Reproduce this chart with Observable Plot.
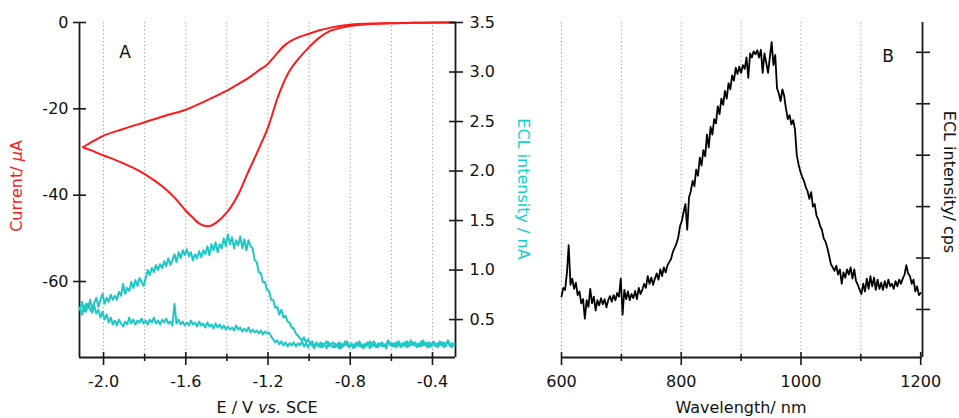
<!DOCTYPE html>
<html><head><meta charset="utf-8">
<script src="https://cdn.jsdelivr.net/npm/d3@7"></script>
<script src="https://cdn.jsdelivr.net/npm/@observablehq/plot@0.6"></script>
<style>
body{margin:0;background:#fff;}
#wrap{position:relative;width:959px;height:418px;overflow:hidden;font-family:"DejaVu Sans",Verdana,sans-serif;color:#111;}
#wrap svg{position:absolute;left:0;top:0;}
.lbl{position:absolute;white-space:nowrap;font-size:16px;line-height:16px;transform:translate(-50%,-50%);}
.rotL{transform:translate(-50%,-50%) rotate(-90deg);}
.rotR{transform:translate(-50%,-50%) rotate(90deg);}
</style></head><body><div id="wrap"></div>
<script>
const red = "#ff1a1a", cyan = "#1ec8c8", cyanText = "#10d0d0";

// ---- Panel A: cyclic voltammogram (current, µA) ----
const cvFwdE = [-0.29,-0.4,-0.5,-0.6,-0.7,-0.8,-0.85,-0.9,-0.95,-1.0,-1.05,-1.1,-1.15,-1.2,-1.25,-1.3,-1.35,-1.4,-1.45,-1.49,-1.53,-1.57,-1.6,-1.65,-1.7,-1.75,-1.8,-1.85,-1.9,-1.95,-2.0,-2.05,-2.1];
const cvFwdI = [0,-0.02,-0.05,-0.15,-0.35,-0.8,-1.3,-2.0,-3.5,-5.7,-8.3,-11.6,-17.0,-24.3,-29.8,-35.0,-40.3,-44.0,-46.3,-47.2,-46.7,-45.0,-43.6,-40.8,-38.5,-36.7,-35.1,-33.8,-32.7,-31.7,-30.8,-29.8,-28.9];
const cvRevE = [-2.1,-2.05,-2.0,-1.9,-1.8,-1.7,-1.6,-1.5,-1.4,-1.35,-1.3,-1.27,-1.24,-1.21,-1.18,-1.15,-1.12,-1.09,-1.05,-1.0,-0.95,-0.9,-0.85,-0.8,-0.7,-0.6,-0.5,-0.4,-0.29];
const cvRevI = [-28.9,-27.5,-26.2,-24.6,-23.1,-21.6,-20.2,-18.1,-15.8,-14.4,-13.0,-12.0,-10.9,-10.0,-8.5,-6.8,-5.3,-4.3,-3.4,-2.6,-1.8,-1.25,-0.8,-0.5,-0.25,-0.15,-0.08,-0.03,0];

// ---- Panel A: ECL intensity (nA), sampled every 0.01 V from -2.115 V ----
const eclStartE = -2.115, eclStepE = 0.01;
const eclFwd = [
0.60,0.68,0.58,0.66,0.62,0.70,0.60,0.67,0.72,0.63,
0.70,0.76,0.66,0.72,0.68,0.75,0.70,0.74,0.70,0.78,
0.74,0.86,0.76,0.82,0.79,0.88,0.82,0.90,0.84,0.92,
0.88,0.84,0.92,1.00,0.95,1.02,0.98,1.05,1.00,1.06,
1.02,1.09,1.04,1.12,1.05,1.10,1.16,1.08,1.18,1.12,
1.20,1.15,1.21,1.14,1.18,1.10,1.16,1.12,1.19,1.13,
1.20,1.16,1.24,1.15,1.26,1.20,1.28,1.18,1.26,1.22,
1.32,1.24,1.36,1.26,1.33,1.22,1.30,1.25,1.34,1.22,
1.31,1.20,1.30,1.24,1.22,1.10,1.08,0.98,0.97,0.88,
0.88,0.80,0.79,0.70,0.70,0.62,0.63,0.55,0.60,0.52,
0.54,0.48,0.47,0.42,0.41,0.36,0.34,0.31,0.29,0.32,
0.27,0.30,0.26,
0.28,0.23,0.27,0.24,0.22,0.26,0.25,0.21,0.27,0.24,
0.22,0.26,0.23,0.27,0.21,0.25,0.24,0.28,0.22,0.26,
0.24,0.22,0.27,0.23,0.25,0.21,0.26,0.24,0.28,0.23,
0.25,0.22,0.26,0.24,0.27,0.23,0.25,0.29,0.24,0.26,
0.23,0.27,0.25,0.22,0.26,0.24,0.28,0.23,0.25,0.27,
0.24,0.22,0.26,0.23,0.29,0.24,0.27,0.22,0.25,0.28,
0.23,0.26,0.24,0.27,0.22,0.25,0.28,0.23,0.26,0.24,0.25];
const eclRev = [
0.62,0.55,0.64,0.58,0.66,0.60,0.57,0.64,0.56,0.60,
0.52,0.58,0.50,0.55,0.47,0.52,0.45,0.49,0.44,0.50,
0.46,0.43,0.48,0.45,0.52,0.46,0.50,0.45,0.49,0.47,
0.51,0.46,0.49,0.45,0.50,0.47,0.52,0.46,0.49,0.45,
0.50,0.47,0.51,0.46,0.48,0.44,0.66,0.46,0.50,0.45,
0.48,0.44,0.47,0.44,0.49,0.45,0.47,0.43,0.48,0.44,
0.46,0.42,0.47,0.43,0.45,0.41,0.46,0.42,0.45,0.41,
0.44,0.40,0.43,0.40,0.42,0.39,0.44,0.40,0.42,0.38,
0.41,0.38,0.42,0.37,0.40,0.37,0.39,0.36,0.39,0.35,
0.38,0.36,0.37,0.33,0.30,0.27,0.29,0.25,0.28,0.24,
0.27,0.23,0.26,0.24,0.27,0.23,0.26,0.24,0.28,0.23,
0.26,0.22,0.27,
0.24,0.21,0.26,0.23,0.27,0.22,0.25,0.28,0.23,0.25,
0.27,0.22,0.25,0.21,0.26,0.23,0.28,0.24,0.22,0.25,
0.21,0.26,0.24,0.28,0.22,0.25,0.23,0.27,0.21,0.26,
0.28,0.24,0.22,0.26,0.23,0.25,0.21,0.27,0.26,0.23,
0.26,0.22,0.28,0.25,0.23,0.27,0.22,0.26,0.29,0.24,
0.27,0.25,0.23,0.28,0.24,0.26,0.22,0.27,0.23,0.25,
0.26,0.22,0.28,0.24,0.27,0.23,0.29,0.25,0.22,0.26,0.24];

// ---- Panel B: ECL spectrum (cps, arbitrary), sampled every 3 nm from 600 nm ----
const specStart = 600, specStep = 3;
const spec = [
125,142,138,170,225,148,160,140,152,128,
135,112,120,82,118,105,140,112,125,98,
118,108,122,110,120,104,118,126,115,128,
118,132,125,160,90,138,120,135,118,130,
122,136,120,142,130,138,150,142,165,150,
162,148,160,170,158,178,165,182,172,186,
192,198,212,220,228,240,262,272,290,305,
255,318,330,350,340,372,360,395,380,410,
398,440,415,455,440,470,462,495,480,510,
498,525,510,540,528,555,545,570,558,572,
560,575,568,590,550,598,590,602,596,604,
590,605,560,598,580,560,590,620,575,595,
530,520,505,528,515,490,470,478,460,468,
450,400,382,368,358,350,338,330,315,328,
300,305,282,275,262,255,238,232,220,205,
188,182,175,185,168,178,150,172,162,178,
168,182,160,178,155,148,138,130,150,135,
160,140,165,145,162,138,158,140,152,138,
155,142,158,145,150,140,155,145,158,150,
160,168,186,170,165,150,158,135,145,128,132];

// ---- axes / ticks ----
const xDomA = [-2.117, -0.288];
const yDomCur = [-77.6, 0];
const yDomEcl = [0.117, 3.5];
const xTicksA = [-2.0, -1.6, -1.2, -0.8, -0.4];
const xMinorA = [-1.8, -1.4, -1.0, -0.6];
const gridA = [-2.0, -1.8, -1.6, -1.4, -1.2, -1.0, -0.8, -0.6, -0.4];
const yTicksCur = [0, -20, -40, -60];
const yTicksEcl = [3.5, 3.0, 2.5, 2.0, 1.5, 1.0, 0.5];
const xDomB = [600, 1203];
const yDomB = [6.6, 658];
const xTicksB = [600, 800, 1000, 1200];
const xMinorB = [700, 900, 1100];
const gridB = [600, 700, 800, 900, 1000, 1100];
const yTicksB = [100, 200, 300, 400, 500, 600];

// tables
const cvFwd = cvFwdE.map((e, k) => ({e, i: cvFwdI[k]}));
const cvRev = cvRevE.map((e, k) => ({e, i: cvRevI[k]}));
const eclF = eclFwd.map((v, k) => ({e: eclStartE + k * eclStepE, v}));
const eclR = eclRev.map((v, k) => ({e: eclStartE + k * eclStepE, v}));
const specT = spec.map((v, k) => ({w: specStart + k * specStep, v}));

const W = 959, H = 418, mT = 22, mB = 61;
const axisStroke = "#1a1a1a";
const style = {fontFamily: "DejaVu Sans, Verdana, sans-serif", fontSize: "16px", color: "#111", background: "transparent", overflow: "visible"};
const fmt1 = d => d.toFixed(1);
const fmt0 = d => String(d);
const none = () => "";
const tickOpts = {tickFormat: none, label: null, stroke: axisStroke, strokeWidth: 1.6};
const textOpts = {tickSize: 0, label: null, fill: "#111", fontSize: 16};
const frameW = 1.8;

// Panel A, current (left axis)
const svgA = Plot.plot({
  width: W, height: H, marginLeft: 79, marginRight: W - 455, marginTop: mT, marginBottom: mB,
  style,
  x: {domain: xDomA},
  y: {domain: yDomCur},
  marks: [
    Plot.ruleX(gridA, {stroke: "#999", strokeWidth: 1, strokeDasharray: "1.2,2.6"}),
    Plot.line(cvFwd, {x: "e", y: "i", stroke: red, strokeWidth: 2, curve: "catmull-rom"}),
    Plot.line(cvRev, {x: "e", y: "i", stroke: red, strokeWidth: 2, curve: "catmull-rom"}),
    Plot.ruleX([xDomA[0]], {stroke: axisStroke, strokeWidth: frameW}),
    Plot.ruleX([xDomA[1]], {stroke: axisStroke, strokeWidth: frameW}),
    Plot.ruleY([yDomCur[0]], {stroke: axisStroke, strokeWidth: frameW}),
    Plot.axisY({anchor: "left", ticks: yTicksCur, tickSize: 13, dx: 7, ...tickOpts}),
    Plot.axisY({anchor: "left", ticks: yTicksCur, tickPadding: 11, tickFormat: fmt0, ...textOpts}),
    Plot.axisX({anchor: "bottom", ticks: xTicksA, tickSize: 13, dy: -5, ...tickOpts}),
    Plot.axisX({anchor: "bottom", ticks: xMinorA, tickSize: 7, dy: -3, ...tickOpts}),
    Plot.axisX({anchor: "bottom", ticks: xTicksA, tickPadding: 18, tickFormat: fmt1, ...textOpts})
  ]
});

// Panel A, ECL (right axis)
const svgA2 = Plot.plot({
  width: W, height: H, marginLeft: 79, marginRight: W - 455, marginTop: mT, marginBottom: mB,
  style,
  x: {domain: xDomA, axis: null},
  y: {domain: yDomEcl},
  marks: [
    Plot.line(eclF, {x: "e", y: "v", stroke: cyan, strokeWidth: 2, clip: true}),
    Plot.line(eclR, {x: "e", y: "v", stroke: cyan, strokeWidth: 2, clip: true}),
    Plot.axisY({anchor: "right", ticks: yTicksEcl, tickSize: 14, dx: -7, ...tickOpts}),
    Plot.axisY({anchor: "right", ticks: yTicksEcl, tickPadding: 14, tickFormat: fmt1, ...textOpts})
  ]
});

// Panel B, spectrum
const svgB = Plot.plot({
  width: W, height: H, marginLeft: 561, marginRight: W - 922, marginTop: mT, marginBottom: mB,
  style,
  x: {domain: xDomB},
  y: {domain: yDomB},
  marks: [
    Plot.ruleX(gridB, {stroke: "#999", strokeWidth: 1, strokeDasharray: "1.2,2.6"}),
    Plot.line(specT, {x: "w", y: "v", stroke: "#000", strokeWidth: 1.8}),
    Plot.ruleX([xDomB[1]], {stroke: axisStroke, strokeWidth: frameW}),
    Plot.ruleY([yDomB[0]], {stroke: axisStroke, strokeWidth: frameW}),
    Plot.axisY({anchor: "right", ticks: yTicksB, tickSize: 14, dx: -7, ...tickOpts}),
    Plot.axisX({anchor: "bottom", ticks: xTicksB, tickSize: 13, dy: -5, ...tickOpts}),
    Plot.axisX({anchor: "bottom", ticks: xMinorB, tickSize: 7, dy: -3, ...tickOpts}),
    Plot.axisX({anchor: "bottom", ticks: xTicksB, tickPadding: 18, tickFormat: fmt0, ...textOpts})
  ]
});

const wrap = document.getElementById("wrap");
wrap.append(svgA, svgA2, svgB);

function label(html, x, y, cls, color, size) {
  const d = document.createElement("div");
  d.className = "lbl" + (cls ? " " + cls : "");
  d.style.left = x + "px"; d.style.top = y + "px";
  if (color) d.style.color = color;
  if (size) { d.style.fontSize = size + "px"; d.style.lineHeight = size + "px"; }
  d.innerHTML = html;
  wrap.append(d);
}
label("E / V <i>vs.</i> SCE", 267, 407.5);
label("Wavelength/ nm", 741, 407.5);
label("Current/ <i>μ</i>A", 17, 186, "rotL", red);
label("ECL intensity / nA", 523, 188.5, "rotR", cyanText);
label("ECL intensity/ cps", 949, 182, "rotR", "#111");
label("A", 125, 51.5, "", "#111", 17);
label("B", 888, 56, "", "#111", 17);
</script></body></html>
